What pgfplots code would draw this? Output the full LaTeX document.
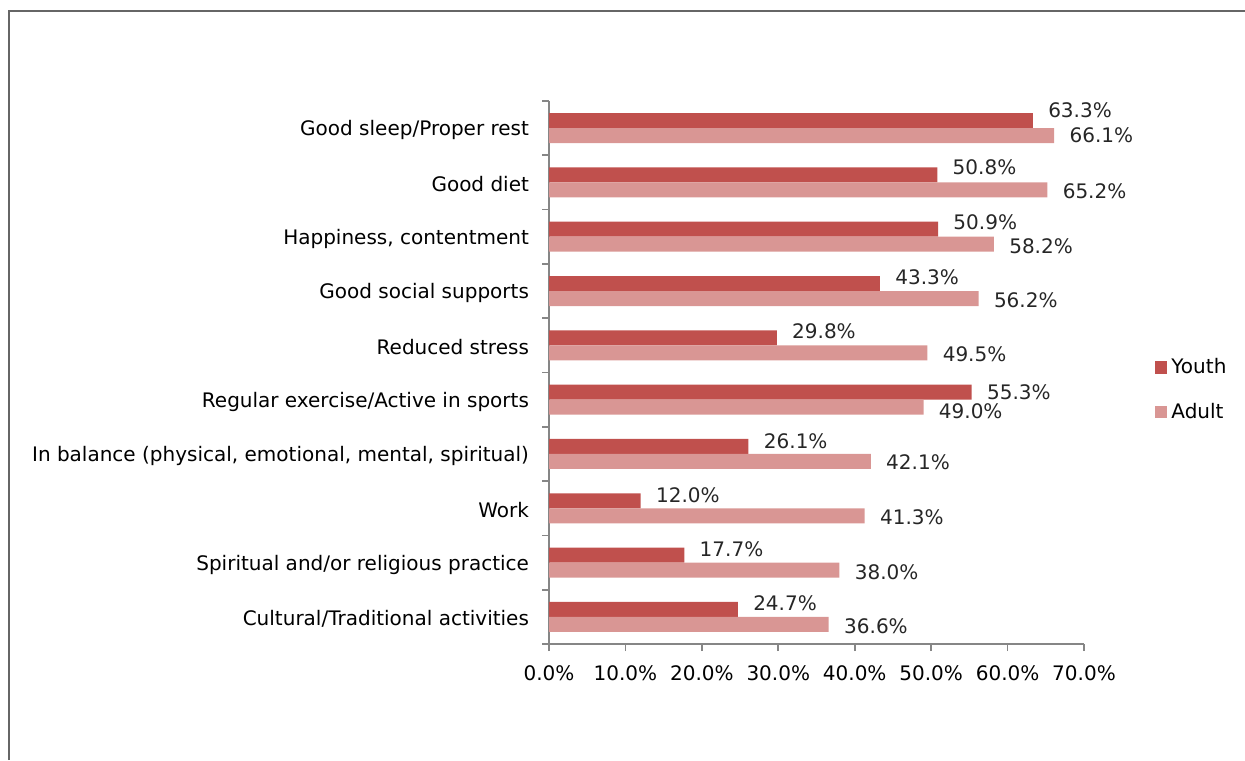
\documentclass[border=0pt]{standalone}
\usepackage{pgfplots}
\pgfplotsset{compat=1.18}
\usepackage{pgfplotstable}
\usepackage{fontspec}
\setmainfont{DejaVu Sans}

\definecolor{youthc}{HTML}{C0504D}
\definecolor{adultc}{HTML}{D99694}
\definecolor{axisc}{HTML}{868686}
\definecolor{framec}{HTML}{666666}

% pos 0 = bottom category
\pgfplotstableread{
pos youth adult
0   24.7  36.6
1   17.7  38.0
2   12.0  41.3
3   26.1  42.1
4   55.3  49.0
5   29.8  49.5
6   43.3  56.2
7   50.9  58.2
8   50.8  65.2
9   63.3  66.1
}\datatable

% label shifts in px (up positive), indexed by pos
\def\ydy{{6.5,6,6,5.5,0,7,6,7,8,10}}
\def\ady{{-1.5,-2,-1,-0.5,-4,-1,-1.5,-2,-1,0}}

\begin{document}
\fontsize{10pt}{12pt}\selectfont
\begin{tikzpicture}
\useasboundingbox (0,0) rectangle (622.5pt,380pt);
\draw[framec, line width=1pt] (4.5pt,0) -- (4.5pt,374.5pt) -- (622.5pt,374.5pt);
\begin{axis}[
  at={(274.5pt,58pt)}, anchor=south west,
  scale only axis,
  width=267.5pt, height=271.5pt,
  xbar, bar width=7.5pt,
  xmin=0, xmax=70, ymin=-0.5, ymax=9.5,
  enlargelimits=false,
  clip=false,
  axis x line*=bottom, axis y line*=left,
  axis line style={axisc, line width=0.8pt, -},
  tick align=outside, tick pos=left,
  major tick length=3.5pt, minor tick length=3.5pt,
  every tick/.style={axisc, line width=0.8pt},
  xtick={0,10,...,70},
  xticklabel={\pgfmathprintnumber[fixed,fixed zerofill,precision=1]{\tick}\%},
  xticklabel style={yshift=-4pt},
  ytick={0,...,9},
  minor ytick={-0.5,0.5,...,9.5},
  major y tick style={draw=none},
  yticklabels={Cultural/Traditional activities,
    Spiritual and/or religious practice,
    Work,
    {In balance (physical, emotional, mental, spiritual)},
    Regular exercise/Active in sports,
    Reduced stress,
    Good social supports\hspace{4pt},
    {Happiness, contentment},
    Good diet\hspace{2pt},
    Good sleep/Proper rest},
  yticklabel style={xshift=-3pt, yshift=-1pt},
  /pgf/number format/assume math mode=true,
  nodes near coords={\pgfmathprintnumber[fixed,fixed zerofill,precision=1]{\pgfplotspointmeta}\%},
  every node near coord/.append style={font=\fontsize{10pt}{12pt}\selectfont, text=black!85},
  visualization depends on={rawy \as \rawy},
  legend style={draw=none, at={(1.12,0.468)}, anchor=west,
    row sep=9pt, font=\fontsize{10pt}{12pt}\selectfont,
    legend cell align=left},
  legend image code/.code={\fill[#1] (0pt,-3.2pt) rectangle (6.4pt,3.2pt);},
]
\addplot[fill=youthc, draw=none, bar shift=3.75pt,
  nodes near coords style={anchor=west, xshift=4.2pt,
    yshift={\ydy[int(round(\rawy))]*0.5pt}}]
  table[x=youth, y=pos] {\datatable};
\addplot[fill=adultc, draw=none, bar shift=-3.75pt,
  nodes near coords style={anchor=west, xshift=4.2pt,
    yshift={\ady[int(round(\rawy))]*0.5pt}}]
  table[x=adult, y=pos] {\datatable};
\legend{Youth, Adult}
\end{axis}
\end{tikzpicture}
\end{document}
